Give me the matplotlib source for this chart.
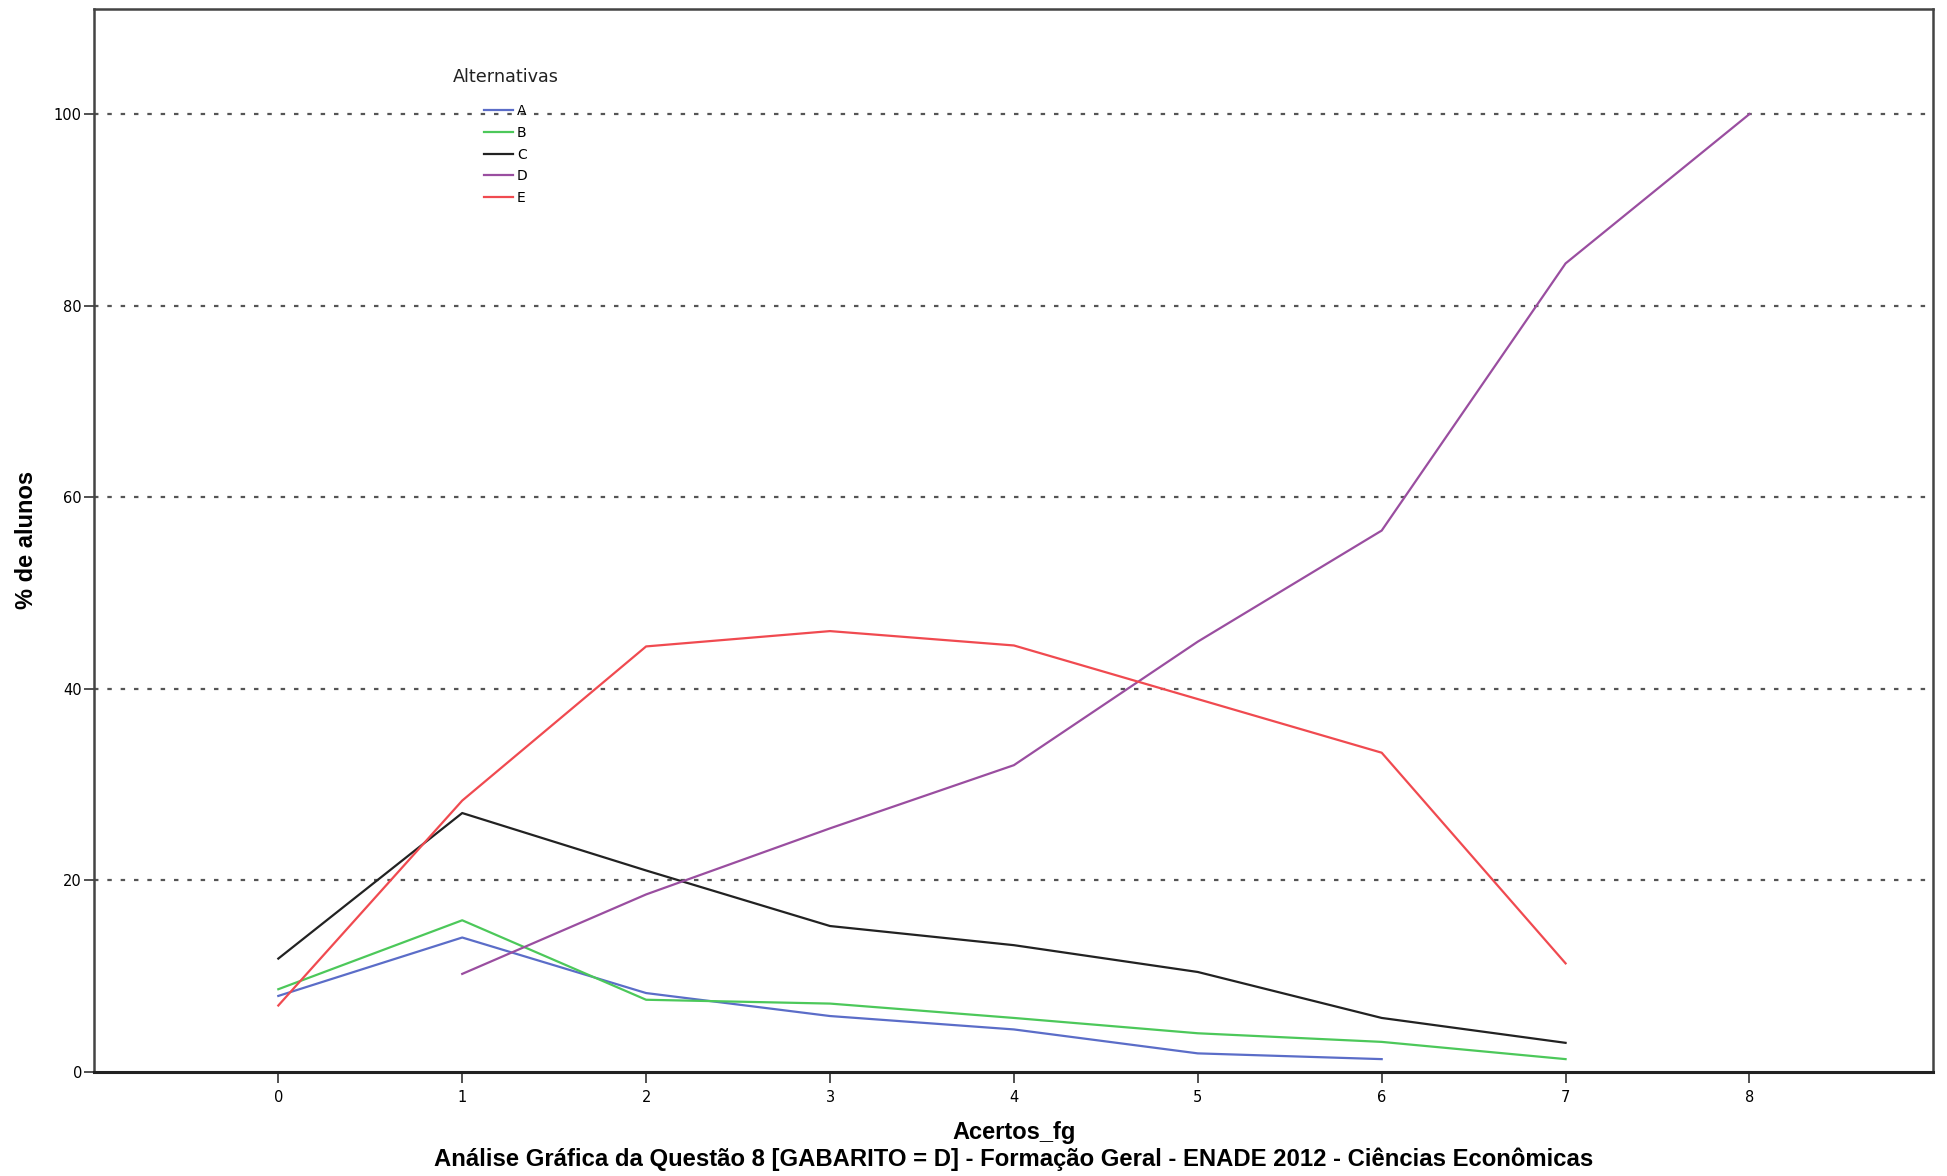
import matplotlib
matplotlib.use('Agg')
import matplotlib.pyplot as plt

plt.rcParams['font.family'] = ['DejaVu Sans']

# Dados
acertos = [0, 1, 2, 3, 4, 5, 6, 7, 8]

alt_a_x = [0, 1, 2, 3, 4, 5, 6]
alt_a = [7.9, 14.0, 8.2, 5.8, 4.4, 1.9, 1.3]

alt_b_x = [0, 1, 2, 3, 4, 5, 6, 7]
alt_b = [8.6, 15.8, 7.5, 7.1, 5.6, 4.0, 3.1, 1.3]

alt_c_x = [0, 1, 2, 3, 4, 5, 6, 7]
alt_c = [11.8, 27.0, 21.0, 15.2, 13.2, 10.4, 5.6, 3.0]

alt_d_x = [1, 2, 3, 4, 5, 6, 7, 8]
alt_d = [10.2, 18.5, 25.4, 32.0, 44.9, 56.5, 84.4, 100.0]

alt_e_x = [0, 1, 2, 3, 4, 5, 6, 7]
alt_e = [6.9, 28.3, 44.4, 46.0, 44.5, 38.9, 33.3, 11.3]

y_ticks = [0, 20, 40, 60, 80, 100]

fig = plt.figure(figsize=(19.47, 11.76), dpi=100)
ax = fig.add_axes([0.0485, 0.0888, 0.9445, 0.9038])

# linhas de grade pontilhadas
for yv in y_ticks[1:]:
    ax.axhline(yv, color='#555555', linewidth=1.6, linestyle=(0, (2, 4)), zorder=1)

ax.plot(alt_a_x, alt_a, color='#5b6dc8', linewidth=1.6, label='A', zorder=3)
ax.plot(alt_b_x, alt_b, color='#4cc85a', linewidth=1.6, label='B', zorder=3)
ax.plot(alt_c_x, alt_c, color='#222222', linewidth=1.6, label='C', zorder=3)
ax.plot(alt_d_x, alt_d, color='#9a4ea0', linewidth=1.6, label='D', zorder=3)
ax.plot(alt_e_x, alt_e, color='#f04a50', linewidth=1.6, label='E', zorder=3)

ax.set_xlim(-1, 9)
ax.set_ylim(0, 111)
ax.set_xticks(acertos)
ax.set_yticks(y_ticks)
ax.tick_params(axis='y', length=7, width=1.2, labelsize=10.5, pad=2, color='#333333')
ax.tick_params(axis='x', length=8, width=1.2, labelsize=10.5, pad=5, color='#333333')

for s in ['left', 'right', 'top', 'bottom']:
    ax.spines[s].set_color('#444444')
    ax.spines[s].set_linewidth(1.8)
ax.spines['bottom'].set_color('#222222')
ax.spines['bottom'].set_linewidth(2.2)

label_font = ['Liberation Sans', 'DejaVu Sans']
ax.set_ylabel('% de alunos', fontsize=17, fontweight='bold', family=label_font)
ax.yaxis.set_label_coords(-0.0305, 0.5)
ax.set_xlabel('Acertos_fg', fontsize=17, fontweight='bold', family=label_font)
ax.xaxis.label.set_va('center')
ax.xaxis.set_label_coords(0.5, -0.057)
fig.text(0.5205, 0.0145, 'Análise Gráfica da Questão 8 [GABARITO = D] - Formação Geral - ENADE 2012 - Ciências Econômicas',
         ha='center', va='center', fontsize=17.2, fontweight='bold', family=label_font)

leg = ax.legend(loc='upper left', bbox_to_anchor=(0.212, 0.910),
                frameon=False, fontsize=10, handlelength=2.05, borderpad=0,
                borderaxespad=0, handletextpad=0.3, labelspacing=0.55)
ax.text(0.195, 0.936, 'Alternativas', transform=ax.transAxes, fontsize=12.7,
        ha='left', va='center', color='#222222')

fig.savefig('out.png', dpi=100)
